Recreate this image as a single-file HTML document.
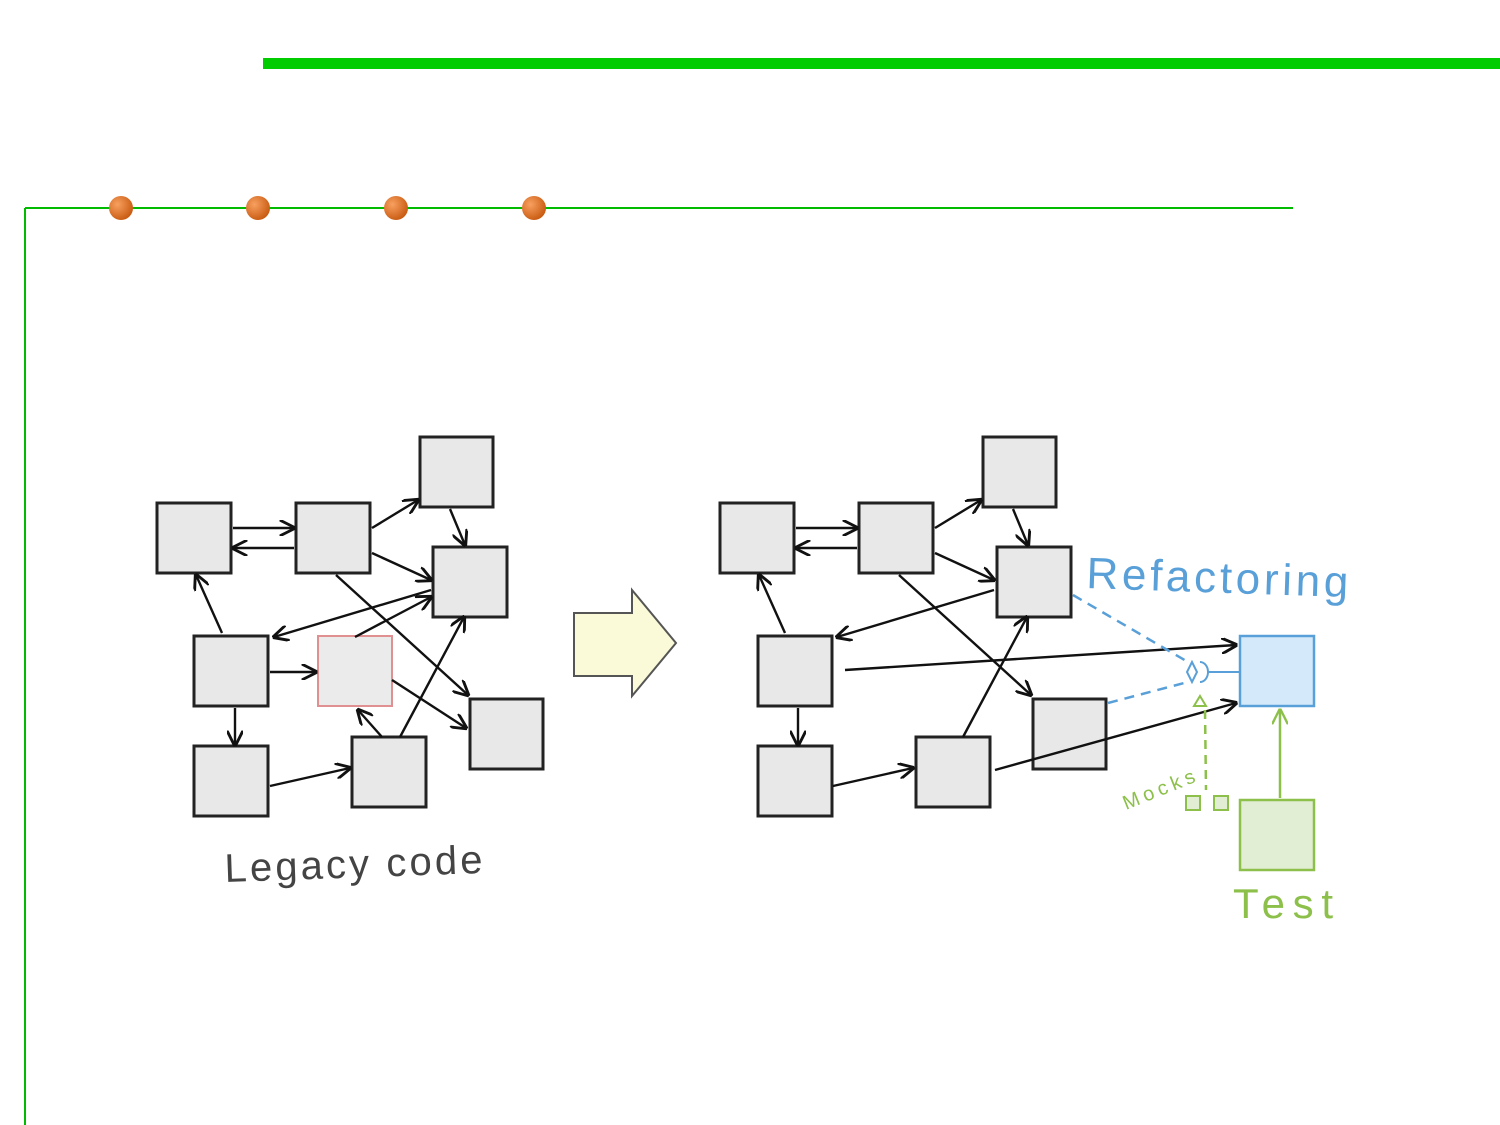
<!DOCTYPE html>
<html><head><meta charset="utf-8"><style>
html,body{margin:0;padding:0;background:#fff;}
svg{display:block}
text{font-family:"Liberation Sans",sans-serif}
</style></head><body>
<svg width="1500" height="1125" viewBox="0 0 1500 1125" xmlns="http://www.w3.org/2000/svg">
<defs>
<radialGradient id="og" cx="0.35" cy="0.35" r="0.7"><stop offset="0" stop-color="#f8a060"/><stop offset="1" stop-color="#c85a10"/></radialGradient>
<marker id="ar" viewBox="0 0 10 10" refX="9" refY="5" markerWidth="16" markerHeight="16" orient="auto" markerUnits="userSpaceOnUse"><path d="M0,0 L10,5 L0,10" fill="none" stroke="#111" stroke-width="1.8"/></marker>
<marker id="ag" viewBox="0 0 10 10" refX="9" refY="5" markerWidth="16" markerHeight="16" orient="auto" markerUnits="userSpaceOnUse"><path d="M0,0 L10,5 L0,10" fill="none" stroke="#8cc04a" stroke-width="1.5"/></marker>
</defs>
<rect x="263" y="58" width="1237" height="11" fill="#00cc00"/>
<line x1="25" y1="208" x2="1293" y2="208" stroke="#00bb00" stroke-width="2"/>
<line x1="25" y1="208" x2="25" y2="1125" stroke="#00bb00" stroke-width="2"/>
<circle cx="121" cy="208" r="12" fill="url(#og)"/>
<circle cx="258" cy="208" r="12" fill="url(#og)"/>
<circle cx="396" cy="208" r="12" fill="url(#og)"/>
<circle cx="534" cy="208" r="12" fill="url(#og)"/>

<g fill="#e8e8e8" stroke="#222" stroke-width="3">
<rect x="157" y="503" width="74" height="70"/><rect x="296" y="503" width="74" height="70"/>
<rect x="420" y="437" width="73" height="70"/><rect x="433" y="547" width="74" height="70"/>
<rect x="194" y="636" width="74" height="70"/><rect x="470" y="699" width="73" height="70"/>
<rect x="194" y="746" width="74" height="70"/><rect x="352" y="737" width="74" height="70"/>
</g>
<rect x="318" y="636" width="74" height="70" fill="#ebebeb" stroke="#e09090" stroke-width="2"/>
<g stroke="#111" stroke-width="2.4" marker-end="url(#ar)">
<line x1="233" y1="528" x2="294" y2="528"/><line x1="294" y1="548" x2="233" y2="548"/>
<line x1="372" y1="528" x2="418" y2="500"/><line x1="450" y1="509" x2="465" y2="545"/>
<line x1="372" y1="553" x2="431" y2="580"/><line x1="222" y1="633" x2="196" y2="575"/>
<line x1="431" y1="590" x2="274" y2="637"/><line x1="355" y1="637" x2="431" y2="597"/>
<line x1="336" y1="575" x2="468" y2="695"/><line x1="270" y1="672" x2="316" y2="672"/>
<line x1="392" y1="680" x2="466" y2="728"/><line x1="400" y1="737" x2="464" y2="617"/>
<line x1="382" y1="737" x2="358" y2="710"/><line x1="235" y1="708" x2="235" y2="745"/>
<line x1="270" y1="786" x2="350" y2="768"/>
</g>
<text x="225" y="882" font-size="40" fill="#444" font-family="DejaVu Sans, sans-serif" textLength="258" transform="rotate(-2 225 882)">Legacy code</text>

<polygon points="574,613 632,613 632,590 676,643 632,696 632,676 574,676" fill="#fafad8" stroke="#555" stroke-width="2"/>

<g fill="#e8e8e8" stroke="#222" stroke-width="3">
<rect x="720" y="503" width="74" height="70"/><rect x="859" y="503" width="74" height="70"/>
<rect x="983" y="437" width="73" height="70"/><rect x="997" y="547" width="74" height="70"/>
<rect x="758" y="636" width="74" height="70"/><rect x="1033" y="699" width="73" height="70"/>
<rect x="758" y="746" width="74" height="70"/><rect x="916" y="737" width="74" height="70"/>
</g>
<g stroke="#111" stroke-width="2.4" marker-end="url(#ar)">
<line x1="796" y1="528" x2="857" y2="528"/><line x1="857" y1="548" x2="796" y2="548"/>
<line x1="935" y1="528" x2="981" y2="500"/><line x1="1013" y1="509" x2="1028" y2="545"/>
<line x1="935" y1="553" x2="994" y2="580"/><line x1="785" y1="633" x2="759" y2="575"/>
<line x1="994" y1="590" x2="837" y2="637"/>
<line x1="899" y1="575" x2="1031" y2="695"/>
<line x1="963" y1="737" x2="1027" y2="617"/>
<line x1="798" y1="708" x2="798" y2="745"/>
<line x1="833" y1="786" x2="913" y2="768"/>
<line x1="845" y1="670" x2="1236" y2="645"/>
<line x1="995" y1="770" x2="1236" y2="703"/>
</g>
<rect x="1240" y="636" width="74" height="70" fill="#d4eafa" stroke="#5aa0d8" stroke-width="2.5"/>
<rect x="1240" y="800" width="74" height="70" fill="#e2eed4" stroke="#8cc04a" stroke-width="2.5"/>
<g stroke="#5aa0d8" stroke-width="2.5" fill="none" stroke-dasharray="10,7">
<line x1="1073" y1="595" x2="1188" y2="662"/><line x1="1108" y1="703" x2="1188" y2="682"/>
</g>
<path d="M1192,662 l-5,10 l5,10 l5,-10z M1200,662 a8,10 0 0 1 0,20 M1208,672 h32" stroke="#5aa0d8" stroke-width="2" fill="none"/>
<path d="M1200,696 l6,10 h-12z" fill="none" stroke="#8cc04a" stroke-width="2"/>
<line x1="1205" y1="710" x2="1206" y2="790" stroke="#8cc04a" stroke-width="2.5" stroke-dasharray="9,6"/>
<rect x="1186" y="796" width="14" height="14" fill="#e2eed4" stroke="#8cc04a" stroke-width="2"/>
<rect x="1214" y="796" width="14" height="14" fill="#e2eed4" stroke="#8cc04a" stroke-width="2"/>
<line x1="1280" y1="798" x2="1280" y2="710" stroke="#8cc04a" stroke-width="2.5" marker-end="url(#ag)"/>
<text x="1086" y="588" font-size="44" fill="#5aa0d8" font-family="DejaVu Sans, sans-serif" textLength="262" transform="rotate(2 1086 588)">Refactoring</text>
<text x="1126" y="810" font-size="20" fill="#8cc04a" font-family="DejaVu Sans, sans-serif" textLength="76" transform="rotate(-22 1126 810)">Mocks</text>
<text x="1233" y="918" font-size="42" fill="#8cc04a" font-family="DejaVu Sans, sans-serif" textLength="100">Test</text>
</svg>
</body></html>
